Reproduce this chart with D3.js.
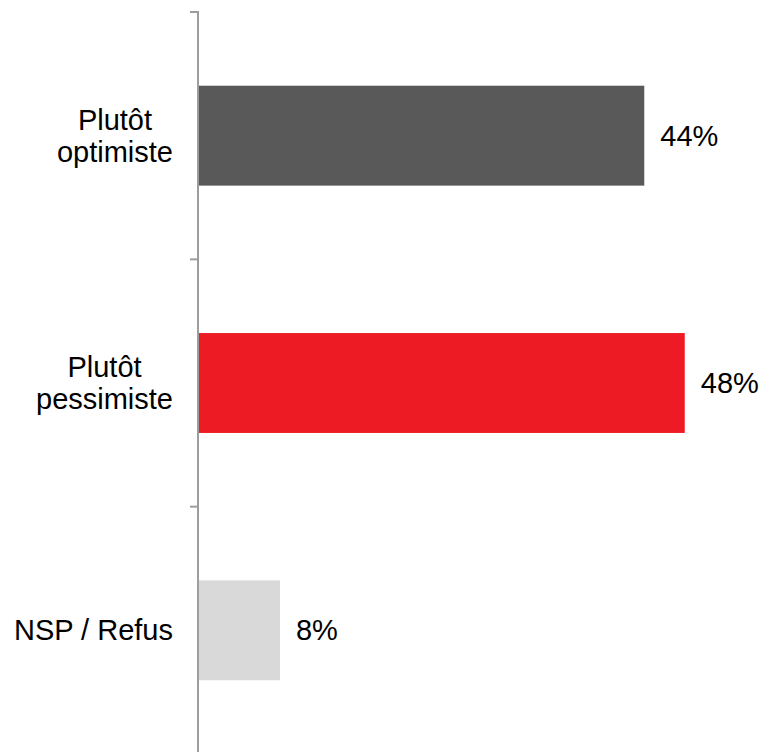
<!DOCTYPE html>
<html>
<head>
<meta charset="utf-8">
<script src="https://cdn.jsdelivr.net/npm/d3@7"></script>
<style>
  html, body { margin: 0; padding: 0; background: #fff; }
  text { font-family: "Liberation Sans", Arial, sans-serif; fill: #000; }
</style>
</head>
<body>
<svg id="chart" width="762" height="752"></svg>
<script>
// Survey answers: share of respondents (%)
const categories = [["Plutôt", "optimiste"], ["Plutôt", "pessimiste"], ["NSP / Refus"]];
const values = [44, 48, 8];
const valueLabels = ["44%", "48%", "8%"];
const colors = ["#595959", "#ED1C24", "#D9D9D9"];

const svg = d3.select("#chart");
const W = 762, H = 752;
const axisX = 199, yTop = 12, yBottom = 754;

const keys = categories.map(c => c.join(" "));

const x = d3.scaleLinear().domain([0, 50]).range([axisX, axisX + 506]);
const y = d3.scaleBand().domain(keys).range([yTop, yBottom])
  .paddingInner(0.596).paddingOuter(0.298);

// Bars
svg.append("g").selectAll("rect")
  .data(values)
  .join("rect")
  .attr("x", x(0))
  .attr("y", (d, i) => y(keys[i]))
  .attr("width", d => x(d) - x(0))
  .attr("height", y.bandwidth())
  .attr("fill", (d, i) => colors[i]);

// Vertical axis with ticks at category boundaries
const step = y.step();
const boundaries = keys.map(k => y(k) - step * y.paddingInner() / 2);
boundaries[0] = yTop;
boundaries.push(yBottom);
const axis = svg.append("g").attr("stroke", "#9d9d9d").attr("stroke-width", 2).attr("fill", "none");
axis.append("line").attr("x1", axisX - 1).attr("x2", axisX - 1).attr("y1", yTop - 1).attr("y2", H);
axis.selectAll("line.tick").data(boundaries).join("line")
  .attr("class", "tick")
  .attr("x1", axisX - 9).attr("x2", axisX - 1)
  .attr("y1", d => d).attr("y2", d => d);

// Category labels: block right-aligned, lines centred within the block
const fs = 29, lh = 32.5;
const labelRight = 173;
categories.forEach((lines, i) => {
  const cy = y(keys[i]) + y.bandwidth() / 2;
  const g = svg.append("g");
  const t = g.append("text").attr("font-size", fs).attr("text-anchor", "middle");
  const firstBase = cy - (lines.length - 1) * lh / 2 + fs * 0.35;
  lines.forEach((ln, j) => {
    t.append("tspan").attr("x", 0).attr("y", firstBase + j * lh).text(ln);
  });
  const maxW = d3.max(t.selectAll("tspan").nodes(), n => n.getComputedTextLength());
  t.selectAll("tspan").attr("x", labelRight - maxW / 2);
});

// Value labels
svg.append("g").selectAll("text")
  .data(values)
  .join("text")
  .attr("x", d => x(d) + 16)
  .attr("y", (d, i) => y(keys[i]) + y.bandwidth() / 2 + fs * 0.35)
  .attr("font-size", fs)
  .text((d, i) => valueLabels[i]);
</script>
</body>
</html>
